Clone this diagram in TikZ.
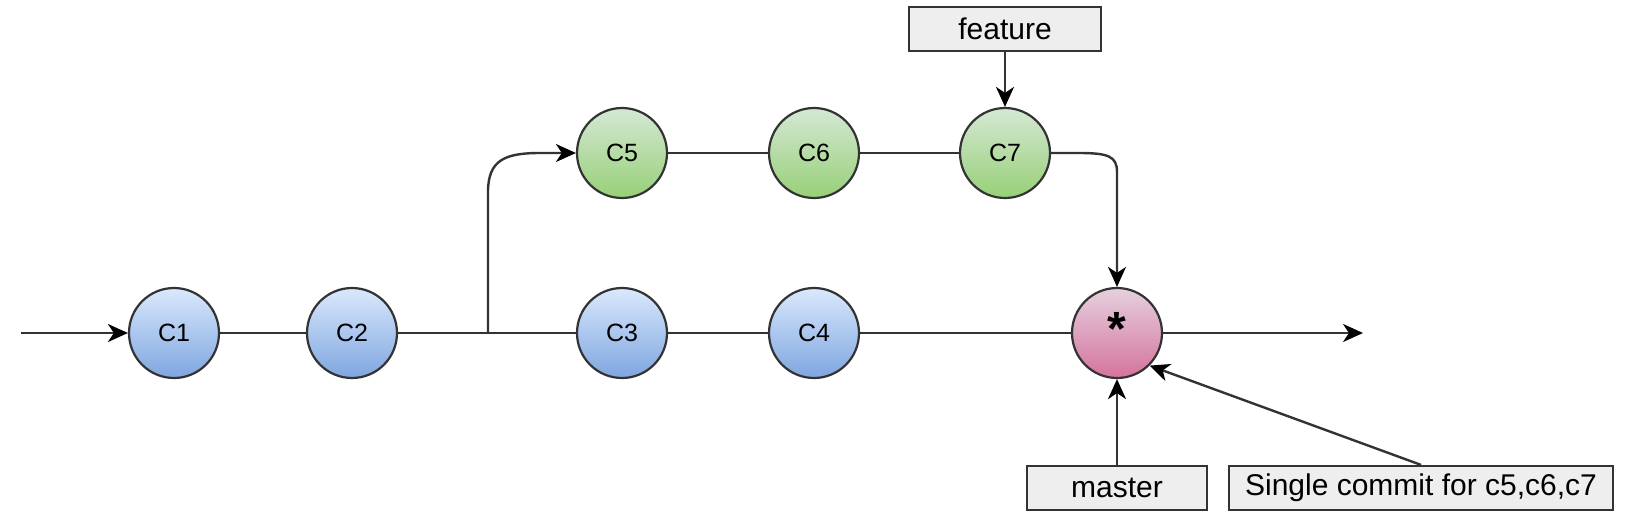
\documentclass[tikz,border=0pt]{standalone}
\usepackage{fontspec}
\setmainfont{Liberation Sans}
\usetikzlibrary{arrows.meta}
\definecolor{bluetop}{HTML}{DAE8FC}
\definecolor{bluebot}{HTML}{7EA6E0}
\definecolor{greentop}{HTML}{D5E8D4}
\definecolor{greenbot}{HTML}{97D077}
\definecolor{pinktop}{HTML}{E6D0DE}
\definecolor{pinkbot}{HTML}{D5739D}
\definecolor{boxfill}{HTML}{EEEEEE}
\definecolor{linecol}{HTML}{333333}
\tikzset{
  commit/.style={circle, draw=linecol, line width=2.2pt, minimum size=90pt, inner sep=0pt,
    font=\fontsize{25}{28}\selectfont},
  bluec/.style={commit, top color=bluetop, bottom color=bluebot},
  greenc/.style={commit, top color=greentop, bottom color=greenbot},
  pinkc/.style={commit, top color=pinktop, bottom color=pinkbot},
  label box/.style={draw=linecol, fill=boxfill, line width=2.2pt, minimum height=44pt,
    inner sep=0pt, font=\fontsize{30}{34}\selectfont},
  conn/.style={draw=linecol, line width=2.4pt},
  arr/.style={conn, -{Stealth[length=20pt, width=18pt, inset=6pt, color=black]}}
}
\begin{document}
\begin{tikzpicture}[x=1pt, y=-1pt]
\useasboundingbox (0,0) rectangle (1634,512);
% commits
\node[bluec] (c1) at (174,333) {C1};
\node[bluec] (c2) at (352,333) {C2};
\node[bluec] (c3) at (622,333) {C3};
\node[bluec] (c4) at (814,333) {C4};
\node[greenc] (c5) at (622,153) {C5};
\node[greenc] (c6) at (814,153) {C6};
\node[greenc] (c7) at (1005,153) {C7};
\node[pinkc] (sq) at (1117,333) {\raisebox{9pt}{\fontsize{48}{48}\selectfont\bfseries *}};
% labels
\node[label box, minimum width=192pt] (feature) at (1005,29) {feature};
\node[label box, minimum width=180pt] (master) at (1117,488) {master};
\node[label box, minimum width=384pt] (single) at (1421,488) {Single commit for c5,c6,c7};
% coordinates
\coordinate (start) at (21,333);
\coordinate (branch) at (488,333);
\coordinate (finish) at (1363,333);
% connectors
\draw[arr] (start) -- (c1.west);
\draw[conn] (c1.east) -- (c2.west);
\draw[conn] (c2.east) -- (c3.west);
\draw[conn] (c3.east) -- (c4.west);
\draw[conn] (c4.east) -- (sq.west);
\draw[arr] (sq.east) -- (finish);
\draw[arr] (branch) -- (488,192) .. controls (488,160) and (505,153) .. (540,153) -- (c5.west);
\draw[conn] (c5.east) -- (c6.west);
\draw[conn] (c6.east) -- (c7.west);
\draw[arr] (c7.east) -- (1078,153) .. controls (1108,153) and (1117,156) .. (1117,172) -- (sq.north);
\draw[arr] (feature.south) -- (c7.north);
\draw[arr] (master.north) -- (sq.south);
\draw[arr] (single.north) -- (sq.south east);
\end{tikzpicture}
\end{document}
